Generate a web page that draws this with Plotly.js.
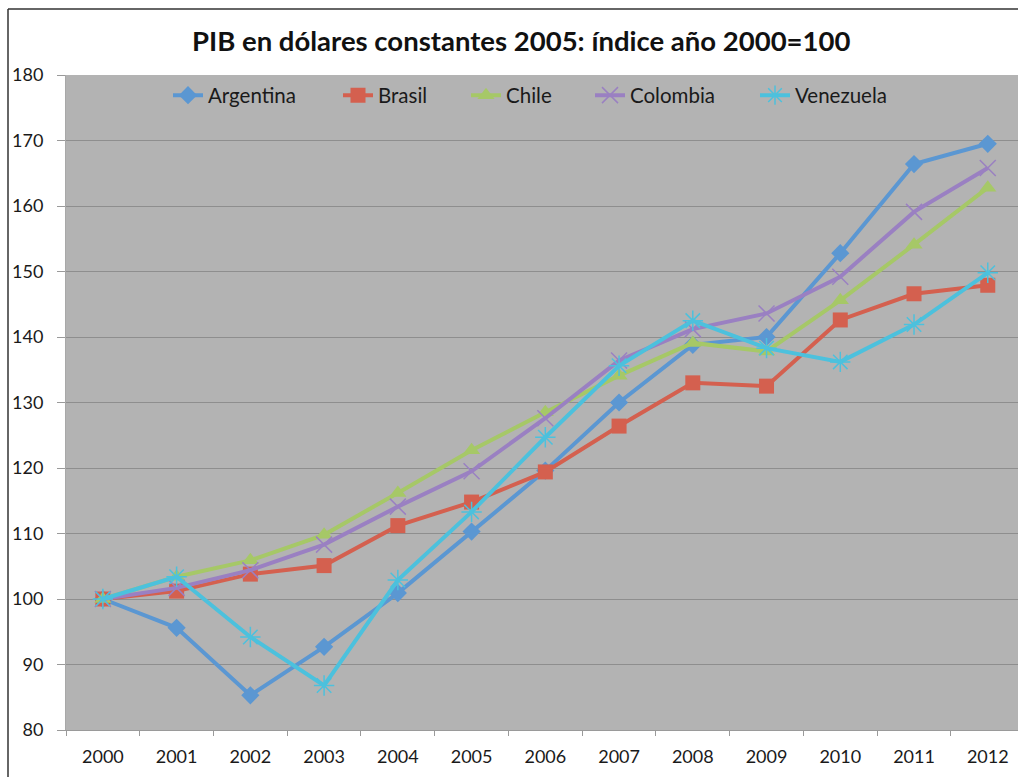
<!DOCTYPE html>
<html>
<head>
<meta charset="utf-8">
<script src="https://cdn.plot.ly/plotly-3.0.1.min.js"></script>
<style>html,body{margin:0;padding:0;background:#fff;}#chart{width:1018px;height:777px;}</style>
</head>
<body>
<div id="chart"></div>
<script>
const years = ['2000','2001','2002','2003','2004','2005','2006','2007','2008','2009','2010','2011','2012'];
const argentina = [100, 95.6, 85.3, 92.7, 100.9, 110.3, 119.6, 130.0, 138.8, 140.0, 152.8, 166.4, 169.5];
const brasil    = [100, 101.2, 103.8, 105.1, 111.2, 114.8, 119.4, 126.4, 133.0, 132.5, 142.6, 146.6, 147.9];
const chile     = [100, 103.4, 105.9, 109.8, 116.2, 122.7, 128.5, 134.1, 139.1, 137.8, 145.6, 154.1, 162.8];
const colombia  = [100, 101.7, 104.4, 108.3, 114.1, 119.5, 127.6, 136.4, 141.2, 143.6, 149.2, 159.1, 165.8];
const venezuela = [100, 103.4, 94.2, 86.8, 102.9, 113.3, 124.7, 135.6, 142.5, 138.3, 136.2, 141.9, 149.8];
const seriesNames = ['Argentina','Brasil','Chile','Colombia','Venezuela'];

const colors = ['#5b97d2','#d4604f','#a6c867','#9a80c2','#4cc1dd'];
const symbols = ['diamond','square','triangle-up','x-thin-open','asterisk-open'];
const sizes = [14, 15, 15, 16, 17];
const legendIds = ['legend','legend2','legend3','legend4','legend5'];
// pixel x where each legend entry's label begins (plot area starts at 66, 952 px wide)
const legendTextX = [208, 378, 506, 630, 795];

const data = [argentina, brasil, chile, colombia, venezuela].map((vals, i) => {
  const open = symbols[i].endsWith('open');
  return {
    type: 'scatter', mode: 'lines+markers', name: seriesNames[i],
    x: years, y: vals, legend: legendIds[i],
    line: {color: colors[i], width: 4},
    marker: {symbol: symbols[i], size: sizes[i], color: colors[i],
      line: {color: colors[i], width: open ? 1.5 : 0}}
  };
});

const font = 'Lato, "Open Sans", sans-serif';
const layout = {
  width: 1018, height: 777,
  margin: {l: 66, r: 0, t: 75, b: 47},
  paper_bgcolor: '#ffffff', plot_bgcolor: '#b3b3b3',
  font: {family: font, size: 18, color: '#1a1a1a'},
  title: {text: 'PIB en dólares constantes 2005: índice año 2000=100',
    font: {family: font, size: 27.5, color: '#111', weight: 'bold'},
    x: 0.512, xref: 'container', xanchor: 'center', y: 0.947, yref: 'container', yanchor: 'middle'},
  xaxis: {type: 'category', range: [-0.5, 12.41], tickson: 'boundaries',
    ticks: 'outside', ticklen: 5, tickcolor: '#9a9a9a', showgrid: false,
    showline: true, linecolor: '#9a9a9a', linewidth: 1, zeroline: false,
    ticklabelstandoff: 10, tickfont: {family: font, size: 18, color: '#1a1a1a'}},
  yaxis: {range: [80, 180], dtick: 10, ticks: 'outside', ticklen: 8, tickcolor: '#9a9a9a',
    showgrid: true, gridcolor: '#8e8e8e', gridwidth: 1,
    showline: true, linecolor: '#a8a8a8', linewidth: 1, zeroline: false,
    ticklabelstandoff: 10, tickfont: {family: font, size: 18, color: '#1a1a1a'}},
  showlegend: true,
  shapes: [
    {type: 'line', xref: 'paper', yref: 'paper', x0: (8-66)/952, x1: 1.1, y0: (730-9)/655, y1: (730-9)/655,
      line: {color: '#333', width: 1.5}},
    {type: 'line', xref: 'paper', yref: 'paper', x0: (8-66)/952, x1: (8-66)/952, y0: (730-9)/655, y1: -0.2,
      line: {color: '#333', width: 1.5}}
  ]
};
legendIds.forEach((id, i) => {
  layout[id] = {orientation: 'h', x: (legendTextX[i] - 40 - 66) / 952, xanchor: 'left',
    y: 0.969, yanchor: 'middle', bgcolor: 'rgba(0,0,0,0)',
    font: {family: font, size: 20.5, color: '#1a1a1a'}};
});
Plotly.newPlot('chart', data, layout, {displayModeBar: false, staticPlot: true});
</script>
</body>
</html>
